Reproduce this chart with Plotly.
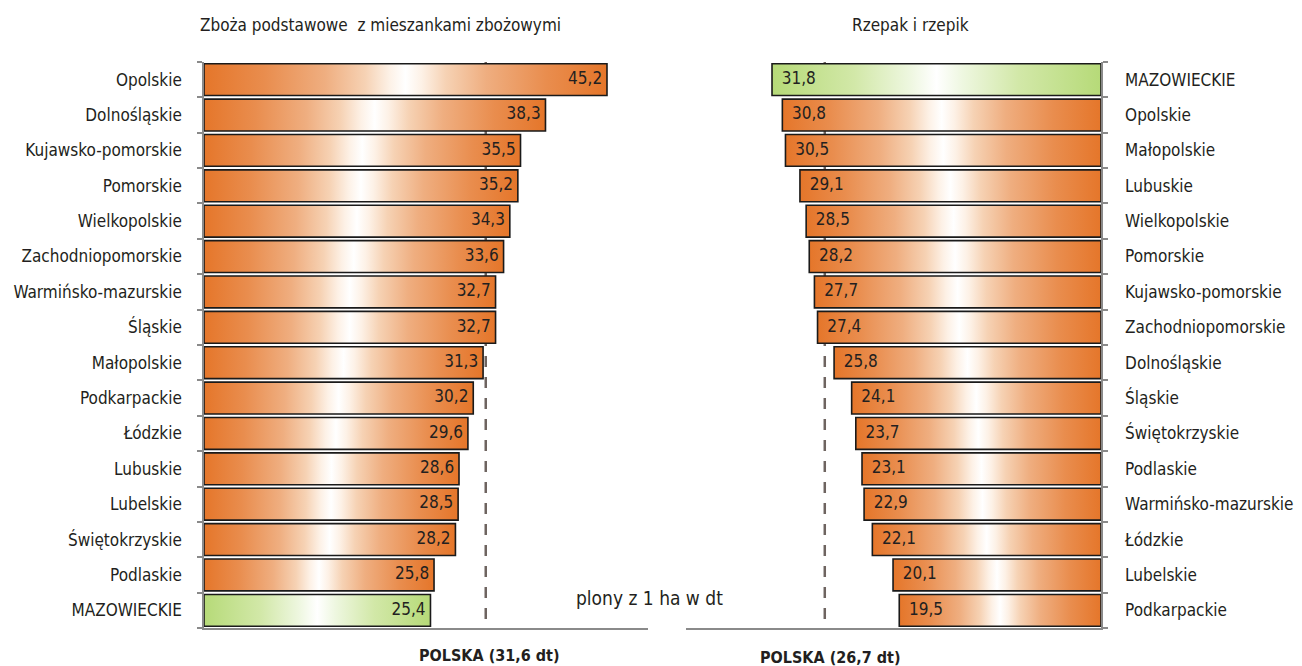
import plotly.graph_objects as go

# plony z 1 ha w dt
zboza_regiony = ["Opolskie", "Dolnośląskie", "Kujawsko-pomorskie", "Pomorskie", "Wielkopolskie",
                 "Zachodniopomorskie", "Warmińsko-mazurskie", "Śląskie", "Małopolskie", "Podkarpackie",
                 "Łódzkie", "Lubuskie", "Lubelskie", "Świętokrzyskie", "Podlaskie", "MAZOWIECKIE"]
zboza_plony = [45.2, 38.3, 35.5, 35.2, 34.3, 33.6, 32.7, 32.7, 31.3, 30.2, 29.6, 28.6, 28.5, 28.2, 25.8, 25.4]

rzepak_regiony = ["MAZOWIECKIE", "Opolskie", "Małopolskie", "Lubuskie", "Wielkopolskie", "Pomorskie",
                  "Kujawsko-pomorskie", "Zachodniopomorskie", "Dolnośląskie", "Śląskie", "Świętokrzyskie",
                  "Podlaskie", "Warmińsko-mazurskie", "Łódzkie", "Lubelskie", "Podkarpackie"]
rzepak_plony = [31.8, 30.8, 30.5, 29.1, 28.5, 28.2, 27.7, 27.4, 25.8, 24.1, 23.7, 23.1, 22.9, 22.1, 20.1, 19.5]

polska_zboza = 31.6
polska_rzepak = 26.7
wyrozniony = "MAZOWIECKIE"

FONT = "Liberation Sans Narrow, DejaVu Sans Condensed, Arial Narrow, sans-serif"
TXT = "#231f20"
AXC = "#8a8a8a"

orange_scale = [[0, "#e5762a"], [0.15, "#e98d4e"], [0.3, "#efae80"], [0.4, "#f6d2b4"], [0.46, "#fdf1e6"],
                [0.5, "#ffffff"], [0.54, "#fdf1e6"], [0.6, "#f6d2b4"], [0.7, "#efae80"], [0.85, "#e98d4e"],
                [1, "#e5762a"]]
green_scale = [[0, "#b6da78"], [0.25, "#d2e8a8"], [0.42, "#eef7e0"], [0.5, "#ffffff"],
               [0.58, "#eef7e0"], [0.75, "#d2e8a8"], [1, "#b6da78"]]

H = 0.45  # half bar thickness


def add_panel(fig, regiony, plony, srednia, xa, ya, textpos):
    n = len(regiony)
    # dashed national average line (behind bars)
    fig.add_trace(go.Scatter(x=[srednia, srednia], y=[-0.5, n - 0.5], mode="lines",
                             line=dict(color="#6e6460", width=2.5, dash="11px,10px"),
                             xaxis=xa, yaxis=ya, hoverinfo="skip", showlegend=False))
    for i, (r, v) in enumerate(zip(regiony, plony)):
        scale = green_scale if r == wyrozniony else orange_scale
        fig.add_trace(go.Scatter(
            x=[0, v, v, 0, 0], y=[i - H, i - H, i + H, i + H, i - H],
            mode="lines", fill="toself",
            fillgradient=dict(type="horizontal", colorscale=scale),
            line=dict(color="#1a1a1a", width=1.6),
            xaxis=xa, yaxis=ya, hoverinfo="skip", showlegend=False))
    fig.add_trace(go.Scatter(
        x=plony, y=list(range(n)), mode="text",
        text=[("  " if textpos == "middle right" else "") + f"{v:.1f}".replace(".", ",") +
              (" " if textpos == "middle left" else "") for v in plony],
        textposition=textpos, textfont=dict(family=FONT, size=17, color=TXT),
        xaxis=xa, yaxis=ya, hoverinfo="skip", showlegend=False))


fig = go.Figure()
add_panel(fig, zboza_regiony, zboza_plony, polska_zboza, "x", "y", "middle left")
add_panel(fig, rzepak_regiony, rzepak_plony, polska_rzepak, "x2", "y2", "middle right")

n = len(zboza_regiony)
ydom = [0.057, 0.907]
common_y = dict(domain=ydom, range=[n - 0.5, -0.5], tickmode="array", tickvals=list(range(n)),
                ticks="", showline=True, linecolor=AXC, linewidth=1.5, showgrid=False, zeroline=False,
                tickfont=dict(family=FONT, size=17, color=TXT),
                minor=dict(tickmode="array", tickvals=[i + 0.5 for i in range(-1, n)],
                           ticks="outside", ticklen=5, tickcolor=AXC, tickwidth=1.5))
common_x = dict(showline=True, linecolor=AXC, linewidth=1.5, showticklabels=False, ticks="",
                showgrid=False, zeroline=False)


def note(text, x, y, size):
    return dict(text=text, x=x, y=y, xref="paper", yref="paper", xanchor="center", yanchor="middle",
                showarrow=False, font=dict(family=FONT, size=size, color=TXT))


fig.update_layout(
    width=1302, height=666,
    margin=dict(l=0, r=0, t=0, b=0),
    paper_bgcolor="white", plot_bgcolor="white",
    xaxis=dict(domain=[0.1567, 0.4977], range=[0, 49.8], anchor="y", **common_x),
    yaxis=dict(anchor="x", ticktext=zboza_regiony, ticklabelstandoff=17, **common_y),
    xaxis2=dict(domain=[0.527, 0.8456], range=[40.1, 0], anchor="y2", **common_x),
    yaxis2=dict(anchor="x2", side="right", ticktext=rzepak_regiony, ticklabelstandoff=19, **common_y),
    annotations=[
        note("Zboża podstawowe  z mieszankami zbożowymi", 0.292, 0.962, 17),
        note("Rzepak i rzepik", 0.699, 0.962, 17),
        note("plony z 1 ha w dt", 0.499, 0.102, 19),
        note("<b>POLSKA (31,6 dt)</b>", 0.376, 0.0165, 16),
        note("<b>POLSKA (26,7 dt)</b>", 0.6375, 0.0135, 16),
    ],
)

fig.write_html("out.html", config={"displayModeBar": False},
               post_script="document.body.style.margin='0';")
